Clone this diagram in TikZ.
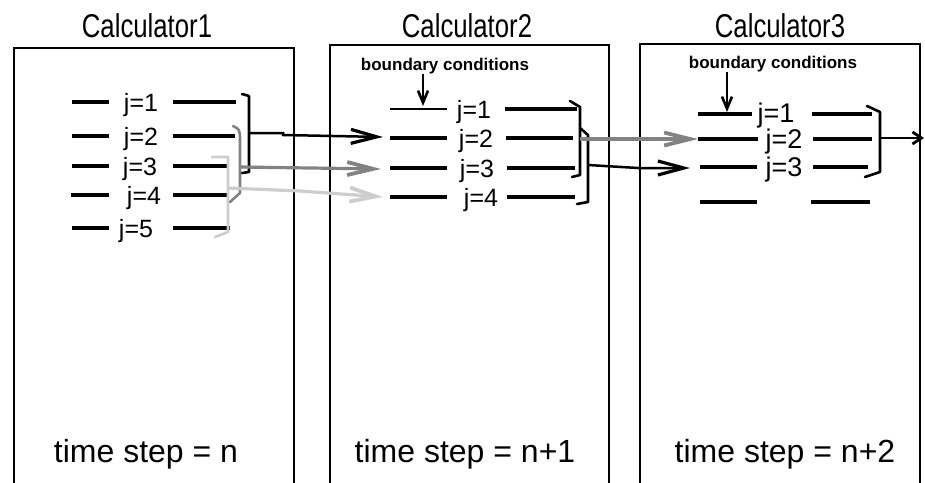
\documentclass[tikz,border=0pt]{standalone}
\usepackage{fontspec}
\usepackage{graphicx}
\setmainfont{Liberation Sans}
\usetikzlibrary{arrows.meta}
\definecolor{dgray}{RGB}{130,130,130}
\definecolor{lgray}{RGB}{205,205,205}
\begin{document}
\begin{tikzpicture}[x=1pt,y=-1pt,
  box/.style={line width=1.4pt},
  jline/.style={line width=3.4pt},
  jlab/.style={font=\fontsize{25}{25}\selectfont, anchor=base, inner sep=0pt},
  jlabb/.style={font=\fontsize{27}{27}\selectfont, anchor=base, inner sep=0pt},
  title/.style={font=\fontsize{33}{33}\selectfont, anchor=base, inner sep=0pt},
  tstep/.style={font=\fontsize{32}{32}\selectfont, anchor=base, inner sep=0pt},
  bc/.style={font=\fontsize{17}{17}\selectfont\bfseries, anchor=base, inner sep=0pt},
  brk/.style={line width=2.6pt, line cap=round, line join=round},
  arrk/.style={line width=2.5pt, -{Straight Barb[length=26pt,width=14pt,line width=3.2pt]}},
  arrd/.style={dgray, line width=3.2pt, -{Straight Barb[length=26pt,width=13pt,line width=3.8pt]}},
  arrl/.style={lgray, line width=3.2pt, -{Straight Barb[length=26pt,width=14pt,line width=3.8pt]}},
  arrbc/.style={line width=2.2pt, -{Straight Barb[length=12pt,width=10pt,line width=2.6pt]}},
  arrsm/.style={line width=2.2pt, -{Straight Barb[length=9pt,width=12pt,line width=2.8pt]}}
]
\useasboundingbox (0,0) rectangle (925,482);

% boxes (open at the bottom)
\draw[box] (14,484) -- (14,48) -- (294,48) -- (294,484);
\draw[box] (330,484) -- (330,45) -- (609,45) -- (609,484);
\draw[box] (640,484) -- (640,44) -- (920,44) -- (920,484);

% titles
\node[title] (t1) at (147,37) {\scalebox{0.78}[1]{Calculator1}};
\node[title] (t2) at (467,37) {\scalebox{0.78}[1]{Calculator2}};
\node[title] (t3) at (780,37) {\scalebox{0.78}[1]{Calculator3}};

% time steps
\node[tstep] (s1) at (146,462) {time step = n};
\node[tstep] (s2) at (465,462) {time step = n+1};
\node[tstep] (s3) at (785,462) {time step = n+2};

% ---------- Calculator1 rows ----------
\draw[jline] (72,102) -- (109,102);  \node[jlab] (a1) at (141,111) {j=1};  \draw[jline] (173,102) -- (236,102);
\draw[jline] (72,136) -- (109,136);  \node[jlab] (a2) at (141,145) {j=2};  \draw[jline] (173,136) -- (235,136);
\draw[jline] (72,166) -- (109,166);  \node[jlab] (a3) at (140,175) {j=3};  \draw[jline] (173,166) -- (229,166);
\draw[jline] (71,195) -- (109,195);  \node[jlab] (a4) at (144,204) {j=4};  \draw[jline] (173,195) -- (228,195);
\draw[jline] (72,228) -- (109,228);  \node[jlab] (a5) at (136,237) {j=5};  \draw[jline] (173,228) -- (230,228);

% ---------- Calculator2 rows ----------
\draw[line width=2.4pt] (390,109) -- (447,109); \node[jlab] (b1) at (474,118) {j=1}; \draw[jline] (505,109) -- (577,109);
\draw[jline] (390,138) -- (447,138); \node[jlab] (b2) at (476,147) {j=2}; \draw[jline] (506,138) -- (573,138);
\draw[jline] (390,168) -- (447,168); \node[jlab] (b3) at (477,177) {j=3}; \draw[jline] (507,168) -- (575,168);
\draw[jline] (390,197) -- (447,197); \node[jlab] (b4) at (481,206) {j=4}; \draw[jline] (507,197) -- (575,197);

% ---------- Calculator3 rows ----------
\draw[jline] (698,114) -- (752,114); \node[jlabb] (c1) at (776,122) {j=1}; \draw[jline] (812,114) -- (872,114);
\draw[jline] (698,139) -- (758,139); \node[jlabb] (c2) at (784,148) {j=2}; \draw[jline] (813,139) -- (872,139);
\draw[jline] (700,167) -- (757,167); \node[jlabb] (c3) at (784,176) {j=3}; \draw[jline] (813,167) -- (868,167);
\draw[jline] (700,202) -- (757,202); \draw[jline] (811,202) -- (870,202);

% boundary conditions
\node[bc] (bc2) at (445,70) {boundary conditions};
\node[bc] (bc3) at (773,68) {boundary conditions};
\coordinate (bc2tip) at (423,106);
\coordinate (bc3tip) at (727,112);
\draw[arrbc] (bc2.south -| bc2tip) -- (bc2tip);
\draw[arrbc] (bc3.south -| bc3tip) -- (bc3tip);

% ---------- brackets in Calculator1 ----------
\draw[brk, lgray] (212,157) -- (228,157) -- (228,232) -- (215,237);
\draw[brk, dgray] (233,126) .. controls (239,129) .. (240,136) -- (240,193) -- (230,202);
\draw[brk] (242,94) -- (249,96) -- (249,172) -- (242,173);

% ---------- brackets in Calculator2 ----------
\draw[brk] (570,101) -- (580,107) -- (580,175) -- (572,177);
\draw[brk] (580,128) -- (588,135) -- (588,202) -- (577,204);

% ---------- bracket in Calculator3 ----------
\draw[brk] (867,106) -- (880,112) -- (880,172) -- (865,177);

% ---------- connectors ----------
\coordinate (k1) at (249,133);
\coordinate (d1) at (240,167);
\coordinate (l1) at (228,188);
\coordinate (in22) at (383,137);
\coordinate (in23) at (381,169);
\coordinate (in24) at (383,197);
\draw[arrl] (l1) -- (300,191) -- (in24);
\draw[arrd] (d1) -- (in23);
\draw[arrk] (k1) -- (283,133) -- (283,135) -- (in22);

\coordinate (k2a) at (580,139);
\coordinate (k2b) at (588,165);
\coordinate (in32) at (698,139);
\coordinate (in33) at (690,168);
\draw[arrd] (k2a) -- (in32);
\draw[arrk] (k2b) -- (638,168) -- (in33);

\coordinate (k3) at (880,138);
\coordinate (out3) at (924,138);
\draw[arrsm] (k3) -- (out3);
\end{tikzpicture}
\end{document}
